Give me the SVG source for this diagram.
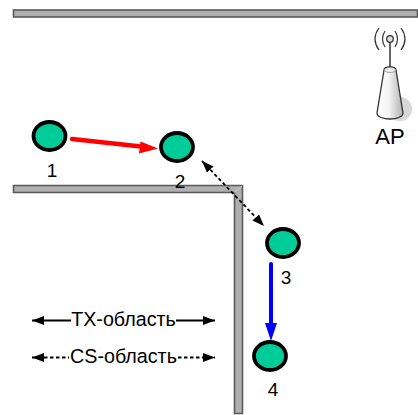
<svg xmlns="http://www.w3.org/2000/svg" width="418" height="415" viewBox="0 0 418 415">
<defs>
<linearGradient id="cone" x1="0" x2="1" y1="0" y2="0"><stop offset="0" stop-color="#ffffff"/><stop offset="0.45" stop-color="#f4f4f4"/><stop offset="1" stop-color="#b0b0b0"/></linearGradient>
<marker id="bk" markerUnits="userSpaceOnUse" markerWidth="14" markerHeight="10" refX="12" refY="4.500" orient="auto-start-reverse"><path d="M0 0L12 4.500L0 9Z" fill="#000"/></marker>
</defs>
<style>
.wall{fill:#b0b0b0;stroke:#5a5a5a;stroke-width:1.6}
.node{fill:#00cc99;stroke:#000;stroke-width:3.8}
text{font-family:"Liberation Sans",Arial,sans-serif;font-size:19px;fill:#000}
.c{text-anchor:middle}
.leg{font-size:19.700px}
.l{fill:none;stroke:#000;stroke-width:1.8}
.d{stroke-dasharray:3.500 2.500}
</style>
<g id="walls">
<rect class="wall" x="13.500" y="10" width="404" height="7"/>
<path class="wall" d="M13.500 185.500H242.500V413.500H234.500V192.500H13.500Z"/>
<path d="M234.500 192.500L242 186" stroke="#d0d0d0" stroke-width="1" fill="none"/>
</g>
<g id="connectors">
<path d="M72 139L141 146.500" stroke="#f00" stroke-width="4.500" stroke-linecap="round" fill="none"/>
<path d="M158 148.500L139 153.500L140.500 141.500Z" fill="#f00"/>
<path d="M271 264V325" stroke="#00f" stroke-width="4" stroke-linecap="round" fill="none"/>
<path d="M271 341L265 323H277Z" fill="#00f"/>
<path class="l d" d="M202 161L264 226" marker-start="url(#bk)" marker-end="url(#bk)"/>
<path class="l" d="M32 320.500H71" marker-start="url(#bk)"/>
<path class="l" d="M176 320.500H215" marker-end="url(#bk)"/>
<path class="l d" d="M32 357.500H69" marker-start="url(#bk)"/>
<path class="l d" d="M178 357.500H215" marker-end="url(#bk)"/>
</g>
<g id="node-1"><ellipse class="node" cx="49.500" cy="136" rx="16" ry="14"/><text class="c" x="52" y="177">1</text></g>
<g id="node-2"><ellipse class="node" cx="177" cy="147" rx="16" ry="14"/><text class="c" x="180" y="188">2</text></g>
<g id="node-3"><ellipse class="node" cx="283" cy="243" rx="16" ry="14"/><text class="c" x="286" y="284">3</text></g>
<g id="node-4"><ellipse class="node" cx="270" cy="356" rx="16" ry="14"/><text class="c" x="273" y="396">4</text></g>
<g id="ap">
<ellipse cx="400" cy="109" rx="12" ry="12" fill="#d8d8d8"/>
<path d="M390 41V69" stroke="#333" stroke-width="1.500" fill="none"/>
<path d="M384 70C384 66 396 66 396 70L403 113C403 121 377 121 377 113Z" fill="url(#cone)" stroke="#333" stroke-width="1.300"/>
<ellipse cx="390" cy="70" rx="5.500" ry="2.500" fill="#eee" stroke="#888" stroke-width="0.700"/>
<circle cx="390" cy="39" r="3.300" fill="#ddd" stroke="#333" stroke-width="1.300"/>
<path d="M385 31Q380 39 385 47M395 31Q400 39 395 47M379 28Q371 39 379 50M401 28Q409 39 401 50" stroke="#333" stroke-width="1.200" fill="none"/>
<text class="c" x="390" y="144" style="font-size:22px">AP</text>
</g>
<g id="legend">
<text class="c leg" x="123.500" y="326">TX-область</text>
<text class="c leg" x="123.500" y="363">CS-область</text>
</g>
</svg>
